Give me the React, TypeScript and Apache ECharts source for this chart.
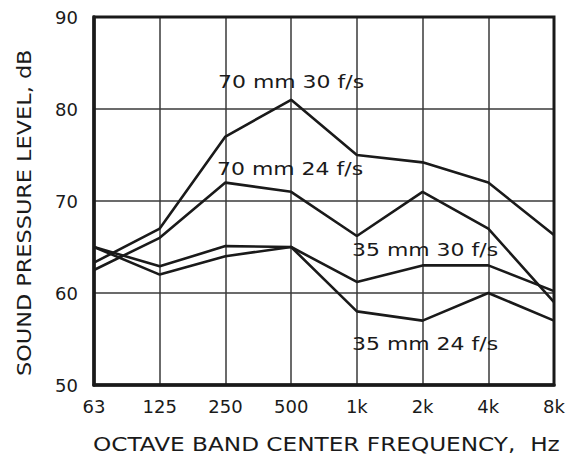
import React, { useEffect, useRef } from "react";
import * as echarts from "echarts";

const categories = ["63", "125", "250", "500", "1k", "2k", "4k", "8k"];
const mm70fs30 = [63.3, 67, 77, 81, 75, 74.2, 72, 66.3];
const mm70fs24 = [62.5, 66, 72, 71, 66.2, 71, 67, 59];
const mm35fs30 = [65, 62.9, 65.1, 65, 61.2, 63, 63, 60.2];
const mm35fs24 = [65, 62, 64, 65, 58, 57, 60, 57];
const seriesNames = ["70 mm 30 f/s", "70 mm 24 f/s", "35 mm 30 f/s", "35 mm 24 f/s"];
const yTicks = [50, 60, 70, 80, 90];

const FONT = "DejaVu Sans";

export default function App() {
  const ref = useRef<HTMLDivElement>(null);
  useEffect(() => {
    const chart = echarts.init(ref.current!, null, { renderer: "svg" });
    const allData = [mm70fs30, mm70fs24, mm35fs30, mm35fs24];
    const labelPos = [
      [218, 82],
      [217, 169],
      [352, 250],
      [352, 344],
    ];
    chart.setOption({
      animation: false,
      backgroundColor: "#fff",
      grid: { left: 94, top: 17, right: 21, bottom: 72, show: false },
      xAxis: {
        type: "category",
        data: categories,
        boundaryGap: false,
        axisLine: { show: true, lineStyle: { color: "#1a1a1a", width: 3.5 } },
        axisTick: { show: false },
        axisLabel: {
          color: "#1a1a1a",
          fontFamily: FONT,
          fontSize: 18,
          margin: 12,
        },
        splitLine: { show: true, lineStyle: { color: "#3a3a3a", width: 1.5 } },
      },
      yAxis: {
        type: "value",
        min: 50,
        max: 90,
        interval: 10,
        axisLine: { show: true, lineStyle: { color: "#1a1a1a", width: 3.5 } },
        axisTick: { show: false },
        axisLabel: {
          color: "#1a1a1a",
          fontFamily: FONT,
          fontSize: 18,
          margin: 16,
          padding: [4, 0, 0, 0],
          formatter: (v: number) => (yTicks.includes(v) ? String(v) : ""),
        },
        splitLine: { show: true, lineStyle: { color: "#3a3a3a", width: 1.5 } },
      },
      series: allData.map((d, i) => ({
        name: seriesNames[i],
        type: "line",
        data: d,
        symbol: "none",
        lineStyle: { color: "#1a1a1a", width: 2.6 },
      })),
      graphic: [
        {
          type: "rect",
          shape: { x: 94, y: 17, width: 460, height: 368 },
          style: { fill: "none", stroke: "#1a1a1a", lineWidth: 3 },
          z: 10,
        },
        ...seriesNames.map((n, i) => ({
          type: "text",
          x: labelPos[i][0],
          y: labelPos[i][1],
          scaleX: 1.22,
          style: {
            text: n,
            font: `18px "${FONT}"`,
            fill: "#1a1a1a",
            verticalAlign: "middle",
          },
          z: 20,
        })),
        {
          type: "text",
          x: 93,
          y: 444,
          scaleX: 1.16,
          style: {
            text: "OCTAVE BAND CENTER FREQUENCY,  Hz",
            font: `20px "${FONT}"`,
            fill: "#1a1a1a",
            verticalAlign: "middle",
          },
        },
        {
          type: "text",
          x: 24,
          y: 376,
          rotation: Math.PI / 2,
          scaleX: 1.12,
          style: {
            text: "SOUND PRESSURE LEVEL, dB",
            font: `20px "${FONT}"`,
            fill: "#1a1a1a",
            verticalAlign: "middle",
          },
        },
      ],
    });
    return () => chart.dispose();
  }, []);
  return (
    <div
      ref={ref}
      style={{ position: "absolute", left: 0, top: 0, width: 575, height: 457, overflow: "hidden" }}
    />
  );
}
